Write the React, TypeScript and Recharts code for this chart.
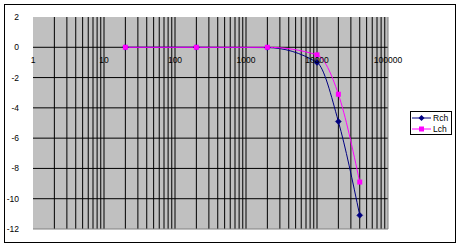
import React from 'react';
import { LineChart, Line, XAxis, YAxis, CartesianGrid, ReferenceLine, ReferenceDot } from 'recharts';

const freqs = [20, 200, 2000, 10000, 20000, 40000];
const rchValues = [0, 0, -0.02, -1.0, -4.9, -11.1];
const lchValues = [0, 0, 0, -0.5, -3.1, -8.9];
const xLabelTicks = [1, 10, 100, 1000, 10000, 100000];
const yTicks = [2, 0, -2, -4, -6, -8, -10, -12];
const yGridValues = [0, -2, -4, -6, -8, -10];

const xGridValues: number[] = [];
[1, 10, 100, 1000, 10000].forEach((d) => {
  for (let m = 1; m <= 9; m++) {
    const v = d * m;
    if (v > 1) xGridValues.push(v);
  }
});

const data = freqs.map((f, i) => ({ f, rch: rchValues[i], lch: lchValues[i] }));

const FONT = '"Liberation Sans", Arial, sans-serif';
const RCH = '#000080';
const LCH = '#FF00FF';

const Diamond = (p: any) => {
  if (p.cx == null || p.cy == null) return <g key={p.index} />;
  const s = 3;
  return (
    <polygon
      key={p.index}
      points={`${p.cx},${p.cy - s} ${p.cx + s},${p.cy} ${p.cx},${p.cy + s} ${p.cx - s},${p.cy}`}
      fill={RCH}
      stroke={RCH}
      strokeWidth={0.5}
    />
  );
};

const Square = (p: any) => {
  if (p.cx == null || p.cy == null) return <g key={p.index} />;
  return <rect key={p.index} x={p.cx - 2.5} y={p.cy - 2.5} width={5} height={5} fill={LCH} />;
};

const XLabel = (props: any) => {
  const vb = props.viewBox || {};
  const cx = (vb.x ?? 0) + (vb.width ?? 0) / 2;
  const cy = (vb.y ?? 0) + (vb.height ?? 0) / 2;
  return (
    <text x={cx} y={cy + 16} textAnchor="middle" fontSize={8.5} fontFamily={FONT} fill="#000">
      {props.value}
    </text>
  );
};

export default function App() {
  return (
    <div style={{ position: 'absolute', left: 0, top: 0, width: 460, height: 247, background: '#fff' }}>
      <div
        style={{
          position: 'absolute',
          left: 4,
          top: 4,
          width: 452,
          height: 239,
          boxSizing: 'border-box',
          border: '1px solid #000',
        }}
      />
      <div style={{ position: 'absolute', left: 0, top: 0 }}>
        <LineChart width={460} height={247} data={data} margin={{ top: 17, right: 72, bottom: 18, left: 0 }}>
          <CartesianGrid
            fill="#C0C0C0"
            stroke="#000"
            strokeOpacity={1}
            vertical={false}
            horizontalValues={yGridValues}
          />
          <XAxis
            dataKey="f"
            type="number"
            scale="log"
            domain={[1, 100000]}
            allowDataOverflow
            ticks={xLabelTicks}
            axisLine={false}
            tickLine={false}
            tick={false}
            height={0}
          />
          <YAxis
            type="number"
            domain={[-12, 2]}
            ticks={yTicks}
            interval={0}
            width={33}
            axisLine={false}
            tickLine={false}
            tickMargin={8}
            tick={{ fontSize: 8.5, fontFamily: FONT, fill: '#000' }}
          />
          {xGridValues.map((v) => (
            <ReferenceLine key={`g${v}`} x={v} stroke="#000" strokeWidth={1} />
          ))}
          <ReferenceLine y={-12} stroke="#808080" strokeWidth={1} />
          <ReferenceLine x={100000} stroke="#808080" strokeWidth={1} />
          <Line
            type="monotone"
            dataKey="rch"
            stroke={RCH}
            strokeWidth={1}
            dot={Diamond}
            activeDot={false}
            isAnimationActive={false}
          />
          <Line
            type="monotone"
            dataKey="lch"
            stroke={LCH}
            strokeWidth={1}
            dot={Square}
            activeDot={false}
            isAnimationActive={false}
          />
          {xLabelTicks.map((t) => (
            <ReferenceDot
              key={t}
              x={t}
              y={0}
              r={0}
              fill="none"
              stroke="none"
              ifOverflow="visible"
              label={<XLabel value={String(t)} />}
            />
          ))}
        </LineChart>
      </div>
      <div
        style={{
          position: 'absolute',
          left: 410,
          top: 111,
          width: 42,
          height: 24,
          boxSizing: 'border-box',
          border: '1px solid #000',
          background: '#fff',
          fontFamily: FONT,
          fontSize: 8.5,
        }}
      >
        <svg width={42} height={24} style={{ position: 'absolute', left: -1, top: -1 }}>
          <line x1={2} y1={7} x2={21} y2={7} stroke={RCH} strokeWidth={1} />
          <polygon points="11.5,4 14.5,7 11.5,10 8.5,7" fill={RCH} />
          <line x1={2} y1={18} x2={21} y2={18} stroke={LCH} strokeWidth={1} />
          <rect x={9} y={15.5} width={5} height={5} fill={LCH} />
          <text x={23} y={10} fontSize={8.5} fontFamily={FONT} fill="#000">Rch</text>
          <text x={23} y={21} fontSize={8.5} fontFamily={FONT} fill="#000">Lch</text>
        </svg>
      </div>
    </div>
  );
}
